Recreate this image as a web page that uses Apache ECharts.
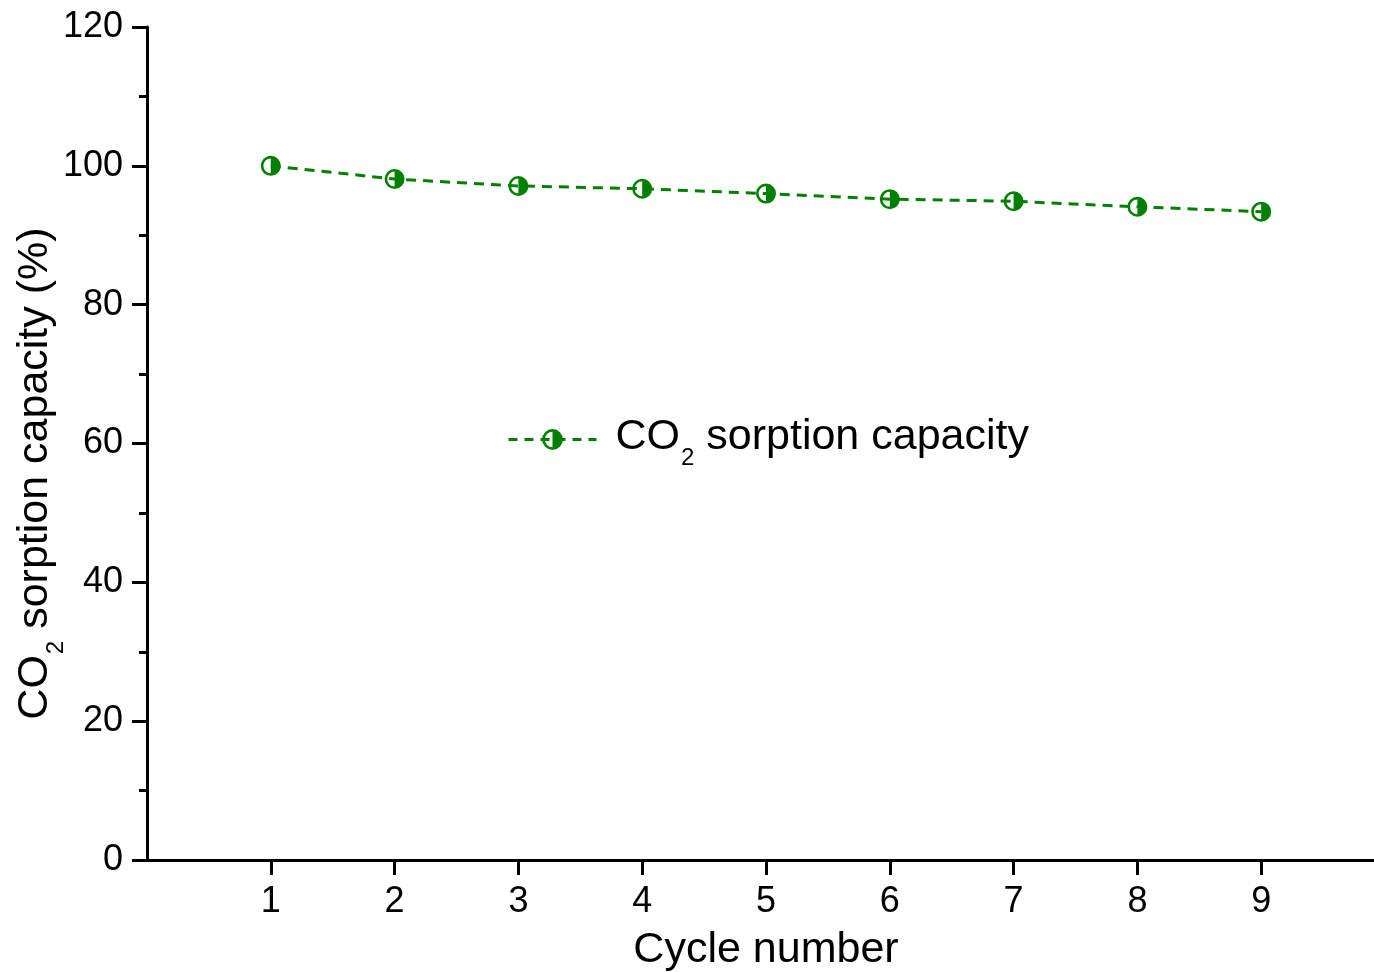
<!DOCTYPE html>
<html>
<head>
<meta charset="utf-8">
<script src="https://cdn.jsdelivr.net/npm/echarts@6/dist/echarts.min.js"></script>
<style>
  html, body { margin: 0; padding: 0; background: #fff; }
  #chart { width: 1374px; height: 972px; }
</style>
</head>
<body>
<div id="chart"></div>
<script>
var cycles = [1, 2, 3, 4, 5, 6, 7, 8, 9];
var capacity = [100.0, 98.1, 97.1, 96.7, 96.0, 95.2, 94.9, 94.1, 93.4];
var yTicks = [0, 20, 40, 60, 80, 100, 120];
var seriesName = 'CO2 sorption capacity';

var myChart = echarts.init(document.getElementById('chart'));

// half filled circle : ring + right half disk
var halfCircle = 'path://M10 0A10 10 0 1 1 10 20A10 10 0 1 1 10 0Z' +
  'M10 2.6A7.4 7.4 0 0 0 10 17.4Z';

var green = '#008000';
var font = 'Liberation Sans, Arial, sans-serif';

// subscript 2 : smaller and pushed under the baseline
var titleRich = {
  a: { fontSize: 43, fontFamily: font, color: '#000', verticalAlign: 'top', padding: [7, 0, 0, 0] },
  sub: { fontSize: 24, fontFamily: font, color: '#000', verticalAlign: 'top', padding: [37, 0, 0, 1] }
};

var option = {
  backgroundColor: '#fff',
  animation: false,
  grid: {
    left: 147,
    top: 27,
    bottom: 112,
    right: -11,
    outerBoundsMode: 'none',
    containLabel: false
  },
  legend: {
    left: 507,
    top: 416,
    padding: 0,
    itemWidth: 88,
    itemHeight: 26,
    data: [seriesName],
    lineStyle: { width: 3, type: [9, 7] },
    formatter: function () {
      return '{a|CO}{sub|2}{a| sorption capacity}';
    },
    textStyle: {
      padding: [0, 0, 0, 14],
      rich: titleRich
    }
  },
  xAxis: {
    type: 'value',
    min: 0,
    max: 10,
    interval: 1,
    name: 'Cycle number',
    nameLocation: 'middle',
    nameGap: 69,
    nameMoveOverlap: false,
    nameTextStyle: { fontSize: 43, fontFamily: font, color: '#000' },
    axisLine: { show: true, onZero: false, lineStyle: { color: '#000', width: 3 } },
    axisTick: { show: true, length: 15, lineStyle: { color: '#000', width: 3 }, customValues: cycles },
    axisLabel: { fontSize: 36, fontFamily: font, color: '#000', margin: 24, customValues: cycles },
    splitLine: { show: false }
  },
  yAxis: {
    type: 'value',
    min: 0,
    max: 120,
    interval: 20,
    name: '{a|CO}{sub|2}{a| sorption capacity (%)}',
    nameLocation: 'middle',
    nameRotate: 90,
    nameGap: 79,
    nameMoveOverlap: false,
    nameTextStyle: { rich: titleRich, padding: [0, 60, 0, 0] },
    axisLine: { show: true, lineStyle: { color: '#000', width: 3 } },
    axisTick: { show: true, length: 15, lineStyle: { color: '#000', width: 3 } },
    minorTick: { show: true, splitNumber: 2, length: 8, lineStyle: { color: '#000', width: 3 } },
    axisLabel: {
      fontSize: 36, fontFamily: font, color: '#000', margin: 24,
      customValues: yTicks
    },
    splitLine: { show: false }
  },
  series: [
    {
      name: seriesName,
      type: 'line',
      data: cycles.map(function (c, i) { return [c, capacity[i]]; }),
      symbol: halfCircle,
      symbolSize: 20,
      showAllSymbol: true,
      lineStyle: { color: green, width: 3, type: [10, 7] },
      itemStyle: { color: green },
      emphasis: { disabled: true }
    }
  ]
};

myChart.setOption(option);
</script>
</body>
</html>
